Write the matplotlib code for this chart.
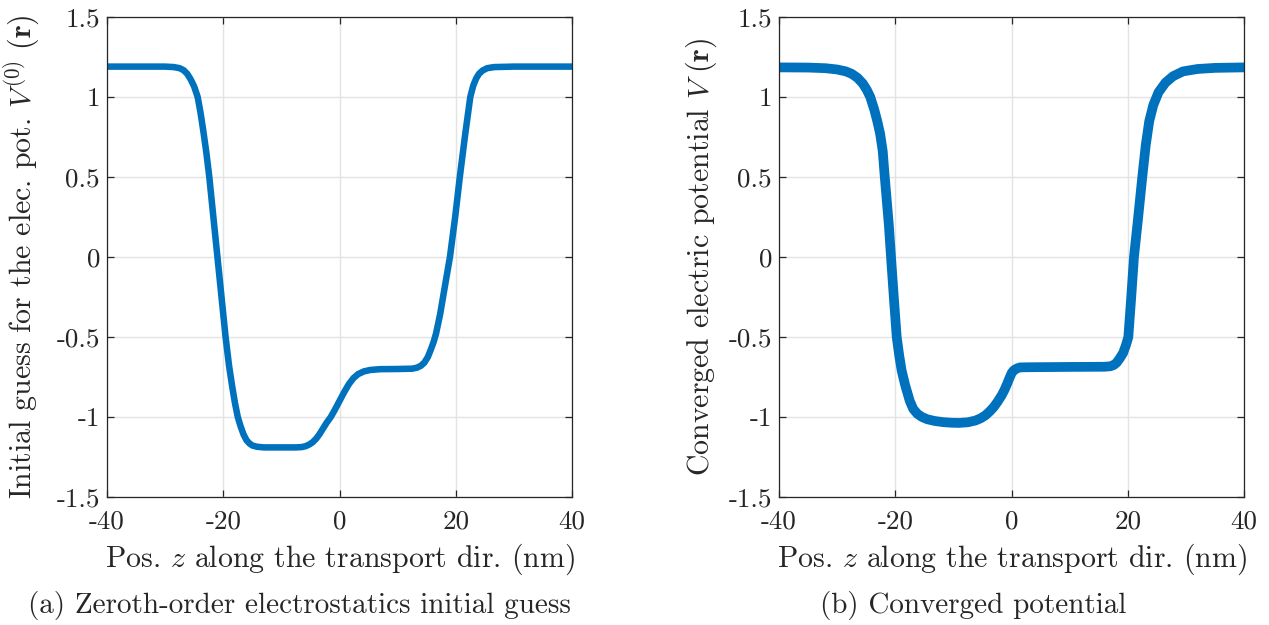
import matplotlib
matplotlib.use("Agg")
import matplotlib.pyplot as plt

plt.rcParams['font.family'] = ['cmr10', 'DejaVu Serif']
plt.rcParams['mathtext.fontset'] = 'cm'
plt.rcParams['axes.unicode_minus'] = False
plt.rcParams['axes.formatter.use_mathtext'] = True

BLUE = '#0072BD'
GRID = '#e3e3e3'
SPINE = '#262626'

# initial guess V^(0) along z (nm)
z_init = [-40, -30, -28.5, -27.5, -26.8, -26.2, -25.6, -25.0, -24.4, -23.9, -23.4,
          -22.9, -22.4, -21.7, -21.0, -20.3, -19.6, -19.0, -18.5, -18.0, -17.5,
          -17.0, -16.5, -16.0, -15.5, -15.0, -14.2, -13, -10, -7.5, -6.5, -5.8,
          -5.2, -4.6, -4.0, -3.4, -2.8, -2.2, -1.5, -0.8, 0, 0.8, 1.6, 2.4, 3.2,
          4.2, 5.3, 7, 10, 12.5, 13.3, 14.0, 14.6, 15.2, 15.7, 16.2, 16.6, 17.3,
          18.1, 19.0, 19.9, 20.7, 21.6, 22.5, 23.0, 23.5, 24.0, 24.6, 25.4, 26.6,
          30, 40]
v_init = [1.19, 1.19, 1.187, 1.18, 1.167, 1.145, 1.11, 1.065, 1.0, 0.9, 0.78,
          0.65, 0.5, 0.25, 0.0, -0.25, -0.5, -0.68, -0.8, -0.91, -1.0,
          -1.06, -1.11, -1.145, -1.165, -1.178, -1.186, -1.19, -1.19, -1.19, -1.188, -1.182,
          -1.172, -1.157, -1.135, -1.105, -1.07, -1.035, -1.0, -0.955, -0.9, -0.845, -0.795, -0.757, -0.732,
          -0.715, -0.706, -0.701, -0.7, -0.698, -0.692, -0.68, -0.66, -0.625, -0.58, -0.53, -0.48, -0.36,
          -0.19, 0.0, 0.25, 0.5, 0.76, 1.0, 1.07, 1.115, 1.145, 1.165, 1.18, 1.187,
          1.19, 1.19]

# converged potential V along z (nm)
z_conv = [-40, -35, -32, -30, -28.5, -27.5, -26.5, -25.6, -24.9, -24.3, -23.6,
          -23.1, -22.6, -22.15, -21.85, -21.5, -21.1, -20.73, -20.25, -19.75, -19.3,
          -18.9, -18.3, -17.5, -16.9, -16.2, -15.4, -14.5, -13.2, -11.8, -10.3,
          -9, -7.5, -6.2, -5.3, -4.5, -3.8, -3.1, -2.4, -1.7, -1.2, -0.72, -0.3,
          0.03, 0.4, 0.9, 1.46, 3, 10, 16, 17, 17.6, 18.1, 18.6, 19.2, 19.7, 20.1,
          20.6, 21.07, 21.8, 22.5, 23.1, 23.7, 24.4, 25.3, 26.5, 27.8, 29.5, 32,
          35, 40]
v_conv = [1.185, 1.184, 1.18, 1.172, 1.16, 1.145, 1.12, 1.085, 1.045, 1.0, 0.92,
          0.85, 0.77, 0.66, 0.52, 0.37, 0.2, 0.0, -0.25, -0.5, -0.62,
          -0.71, -0.8, -0.9, -0.95, -0.98, -1.0, -1.014, -1.025, -1.032, -1.036,
          -1.037, -1.033, -1.022, -1.008, -0.99, -0.967, -0.94, -0.905, -0.865, -0.83, -0.79, -0.752,
          -0.725, -0.708, -0.697, -0.69, -0.689, -0.687, -0.686, -0.683, -0.675, -0.66, -0.635, -0.6, -0.55, -0.5,
          -0.25, 0.0, 0.25, 0.5, 0.7, 0.85, 0.95, 1.03, 1.09, 1.13, 1.16, 1.175,
          1.182, 1.185]

x_ticks = [-40, -20, 0, 20, 40]
x_ticklabels = ['-40', '-20', '0', '20', '40']
y_ticks = [-1.5, -1, -0.5, 0, 0.5, 1, 1.5]
y_ticklabels = ['-1.5', '-1', '-0.5', '0', '0.5', '1', '1.5']

W, H = 1269, 625
fig = plt.figure(figsize=(W / 100, H / 100), dpi=100)


def make_axes(left_px):
    ax = fig.add_axes([left_px / W, (H - 497) / H, 465 / W, 480 / H])
    ax.set_xlim(-40, 40)
    ax.set_ylim(-1.5, 1.5)
    ax.set_xticks(x_ticks)
    ax.set_xticklabels(x_ticklabels)
    ax.set_yticks(y_ticks)
    ax.set_yticklabels(y_ticklabels)
    ax.grid(True, color=GRID, linewidth=1.0)
    ax.set_axisbelow(True)
    for s in ax.spines.values():
        s.set_color(SPINE)
        s.set_linewidth(0.9)
    ax.tick_params(direction='in', length=5, width=0.9, color=SPINE,
                   top=True, right=True, labelsize=19.5, labelcolor='#262626')
    ax.tick_params(axis='x', pad=9)
    ax.tick_params(axis='y', pad=5)
    ax.set_xlabel('Pos. $z$ along the transport dir. (nm)', fontsize=21.5,
                  color='#262626')
    ax.xaxis.set_label_coords(0.5, -0.092)
    return ax


ax1 = make_axes(107)
ax1.plot(z_init, v_init, color=BLUE, linewidth=4.7, solid_joinstyle='round',
         solid_capstyle='butt')
ax1.set_ylabel(r'Initial guess for the elec. pot. $V^{(0)}\ (\mathbf{r})$',
               fontsize=21.5, color='#262626')
ax1.yaxis.set_label_coords(-0.14, 0.5)

ax2 = make_axes(779)
ax2.plot(z_conv, v_conv, color=BLUE, linewidth=7, solid_joinstyle='round',
         solid_capstyle='round')
ax2.set_ylabel(r'Converged electric potential $V\ (\mathbf{r})$',
               fontsize=21.5, color='#262626')
ax2.yaxis.set_label_coords(-0.13, 0.5)

fig.text(299 / W, 1 - 606 / H, '(a) Zeroth-order electrostatics initial guess',
         ha='center', va='center', fontsize=21, color='#262626')
fig.text(973 / W, 1 - 606 / H, '(b) Converged potential',
         ha='center', va='center', fontsize=21, color='#262626')

fig.savefig('out.png', dpi=100)
